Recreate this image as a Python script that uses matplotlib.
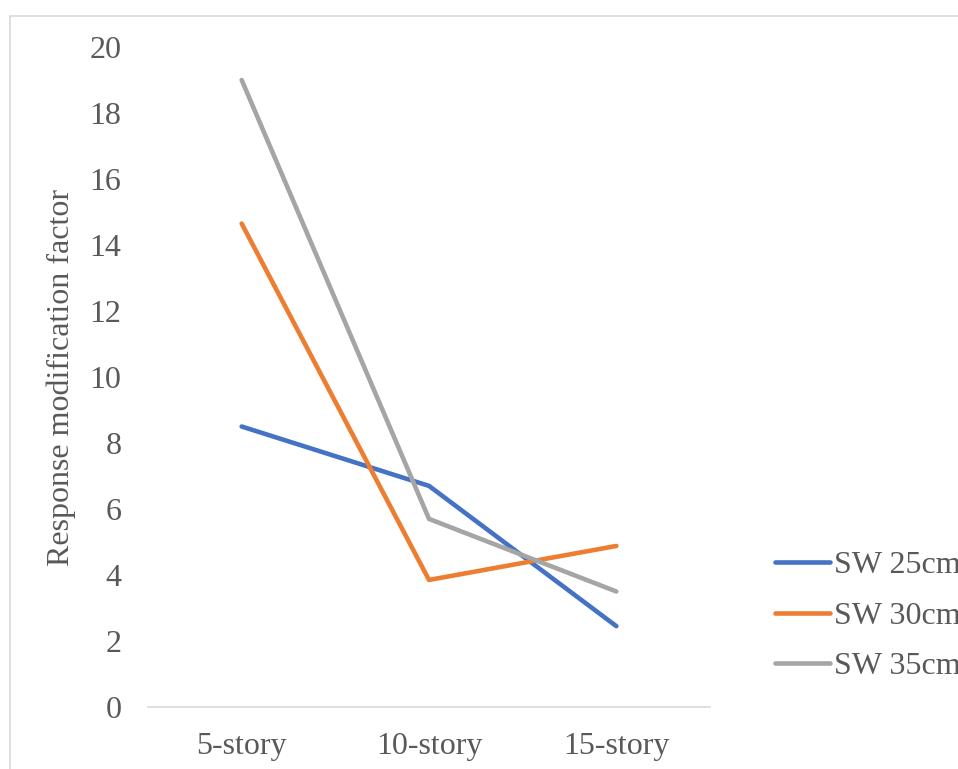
import matplotlib.pyplot as plt
from matplotlib.patches import Rectangle

plt.rcParams['font.family'] = ['Liberation Serif', 'DejaVu Serif']

stories = ['5-story', '10-story', '15-story']
sw_25 = [8.5, 6.7, 2.45]
sw_30 = [14.65, 3.85, 4.88]
sw_35 = [19.0, 5.7, 3.5]
series_names = ['SW 25cm', 'SW 30cm', 'SW 35cm']
colors = ['#4472C4', '#ED7D31', '#A5A5A5']
y_ticks = list(range(0, 21, 2))

fig = plt.figure(figsize=(9.58, 7.69), dpi=100)
W, H = 958, 769
ax = fig.add_axes([148 / W, 1 - 707 / H, (710 - 148) / W, (707 - 47) / H])

x = range(len(stories))
for vals, name, c in zip([sw_25, sw_30, sw_35], series_names, colors):
    ax.plot(x, vals, color=c, lw=3.3, label=name, solid_capstyle='round',
            solid_joinstyle='round')

ax.set_xlim(-0.5, 2.5)
ax.set_ylim(0, 20)
ax.set_xticks(list(x))
ax.set_xticklabels(stories)
ax.set_yticks(y_ticks)
ax.tick_params(axis='both', length=0, labelsize=23, labelcolor='#595959')
ax.tick_params(axis='y', pad=19)
ax.tick_params(axis='x', pad=18)
for s in ['top', 'right', 'left']:
    ax.spines[s].set_visible(False)
ax.spines['bottom'].set_color('#d9d9d9')
ax.spines['bottom'].set_linewidth(1.2)

ax.set_ylabel('Response modification factor', fontsize=23, color='#595959',
              labelpad=10)

# legend sits at the right edge; the labels run past the figure border
fig.legend(loc='center left', bbox_to_anchor=(775 / W, 1 - 616 / H),
           frameon=False, fontsize=23, handlelength=1.72, handletextpad=0.13,
           labelspacing=0.67, borderpad=0, borderaxespad=0,
           labelcolor='#595959')

fig.patches.append(Rectangle((10 / W, -0.05), 1.0, 1 - 16 / H + 0.05,
                             transform=fig.transFigure, fill=False,
                             edgecolor='#d9d9d9', lw=1.2, clip_on=False))

fig.savefig('out.png', dpi=100)
